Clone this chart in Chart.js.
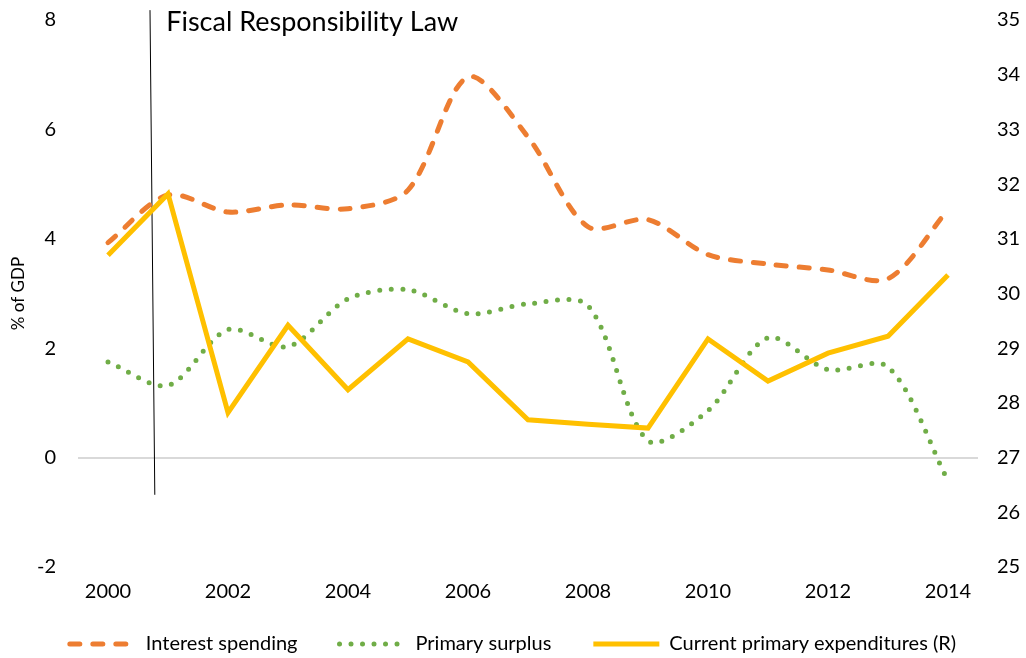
<!DOCTYPE html>
<html>
<head>
<meta charset="utf-8">
<script src="https://cdn.jsdelivr.net/npm/chart.js@4.4.1/dist/chart.umd.min.js"></script>
<style>
  html, body { margin: 0; padding: 0; background: #fff; }
  #wrap { width: 1026px; height: 658px; }
</style>
</head>
<body>
<div id="wrap"><canvas id="fiscalChart"></canvas></div>
<script>
// years on the x axis
const years = ['2000', '2001', '2002', '2003', '2004', '2005', '2006', '2007',
  '2008', '2009', '2010', '2011', '2012', '2013', '2014'];

// % of GDP, left axis
const interestSpending = [3.93, 4.80, 4.49, 4.62, 4.55, 4.89, 6.96, 5.86, 4.22, 4.35, 3.71, 3.54, 3.43, 3.27, 4.53];
const primarySurplus = [1.75, 1.32, 2.34, 2.03, 2.90, 3.07, 2.63, 2.81, 2.78, 0.31, 0.86, 2.19, 1.61, 1.66, -0.42];

// % of GDP, right axis
const primaryExpenditures = [30.70, 31.82, 27.82, 29.42, 28.24, 29.17, 28.75, 27.69, 27.61, 27.54, 29.17, 28.40, 28.91, 29.22, 30.34];

const lawLabel = 'Fiscal Responsibility Law';
const font = 'Lato';

const lawLine = {
  id: 'lawLine',
  beforeLayout(chart) {
    // legend padding also adds space above the items, so keep the box short
    const legend = chart.legend;
    if (legend && !legend._fixed) {
      legend._fixed = true;
      const fit = legend.fit;
      legend.fit = function() {
        fit.call(this);
        this.height = 51;
      };
    }
  },
  afterLayout(chart) {
    // pull the legend items up closer to the axis labels (bottom stays put so nothing is clipped)
    chart.legend.top -= 15;
  },
  // vertical marker between 2000 and 2001
  beforeDatasetsDraw(chart) {
    const x = chart.scales.x;
    const y = chart.scales.y;
    const x0 = x.getPixelForValue(0);
    const step = x.getPixelForValue(1) - x0;
    const ctx = chart.ctx;
    ctx.save();
    ctx.strokeStyle = '#000';
    ctx.lineWidth = 1;
    ctx.beginPath();
    ctx.moveTo(x0 + step * 0.70, y.getPixelForValue(8.18));
    ctx.lineTo(x0 + step * 0.78, y.getPixelForValue(-0.68));
    ctx.stroke();
    ctx.fillStyle = '#000';
    ctx.font = '27px ' + font;
    ctx.textBaseline = 'middle';
    ctx.fillText(lawLabel, x0 + step * 0.97, y.getPixelForValue(7.96));
    ctx.restore();
  }
};

const ctx = document.getElementById('fiscalChart').getContext('2d');
new Chart(ctx, {
  type: 'line',
  data: {
    labels: years,
    datasets: [{
      label: 'Interest spending',
      data: interestSpending,
      yAxisID: 'y',
      borderColor: '#ED7D31',
      backgroundColor: '#ED7D31',
      borderWidth: 5,
      borderDash: [10, 13],
      borderCapStyle: 'round',
      tension: 0.3,
      pointRadius: 0,
      order: 2
    }, {
      label: 'Primary surplus',
      data: primarySurplus,
      yAxisID: 'y',
      borderColor: '#70AD47',
      backgroundColor: '#70AD47',
      borderWidth: 5,
      borderDash: [0, 11.5],
      borderCapStyle: 'round',
      tension: 0.3,
      pointRadius: 0,
      order: 1
    }, {
      label: 'Current primary expenditures (R)',
      data: primaryExpenditures,
      yAxisID: 'y1',
      borderColor: '#FFC000',
      backgroundColor: '#FFC000',
      borderWidth: 5,
      borderCapStyle: 'butt',
      borderJoinStyle: 'miter',
      tension: 0,
      pointRadius: 0,
      order: 0
    }]
  },
  options: {
    responsive: true,
    maintainAspectRatio: false,
    animation: false,
    layout: { padding: { left: 0, right: 0, top: 20, bottom: 0 } },
    plugins: {
      tooltip: { enabled: false },
      legend: {
        position: 'bottom',
        labels: {
          usePointStyle: true,
          pointStyle: 'line',
          pointStyleWidth: 66,
          padding: 42,
          color: '#000',
          font: { family: font, size: 20 },
          sort: (a, b) => a.datasetIndex - b.datasetIndex,
          generateLabels: function(chart) {
            const items = Chart.defaults.plugins.legend.labels.generateLabels(chart);
            items.forEach(item => {
              const ds = chart.data.datasets[item.datasetIndex];
              item.lineDash = ds.borderDash || [];
              item.lineCap = ds.borderCapStyle;
              item.lineWidth = 5;
              item.strokeStyle = ds.borderColor;
            });
            return items;
          }
        }
      }
    },
    scales: {
      x: {
        offset: true,
        grid: { display: false, drawTicks: false },
        border: { display: false },
        ticks: {
          autoSkip: false,
          maxRotation: 0,
          padding: 13,
          color: '#000',
          font: { family: font, size: 20 },
          callback: function(value, index) {
            return index % 2 === 0 ? this.getLabelForValue(value) : '';
          }
        },
        afterFit: s => { s.height = 40; }
      },
      y: {
        position: 'left',
        min: -2,
        max: 8,
        border: { display: false },
        grid: {
          drawTicks: true,
          tickLength: 22,
          tickColor: 'rgba(0,0,0,0)',
          lineWidth: 2,
          color: c => c.tick && c.tick.value === 0 ? '#D9D9D9' : 'rgba(0,0,0,0)'
        },
        ticks: {
          stepSize: 2,
          padding: 0,
          color: '#000',
          font: { family: font, size: 20 }
        },
        title: {
          display: true,
          text: '% of GDP',
          color: '#000',
          font: { family: font, size: 17 },
          padding: { top: 8, bottom: 0 }
        },
        afterFit: s => { s.width = 78; }
      },
      y1: {
        position: 'right',
        min: 25,
        max: 35,
        border: { display: false },
        grid: {
          drawOnChartArea: false,
          drawTicks: true,
          tickLength: 19,
          tickColor: 'rgba(0,0,0,0)'
        },
        ticks: {
          stepSize: 1,
          padding: 0,
          color: '#000',
          font: { family: font, size: 20 }
        },
        afterFit: s => { s.width = 48; }
      }
    }
  },
  plugins: [lawLine]
});
</script>
</body>
</html>
